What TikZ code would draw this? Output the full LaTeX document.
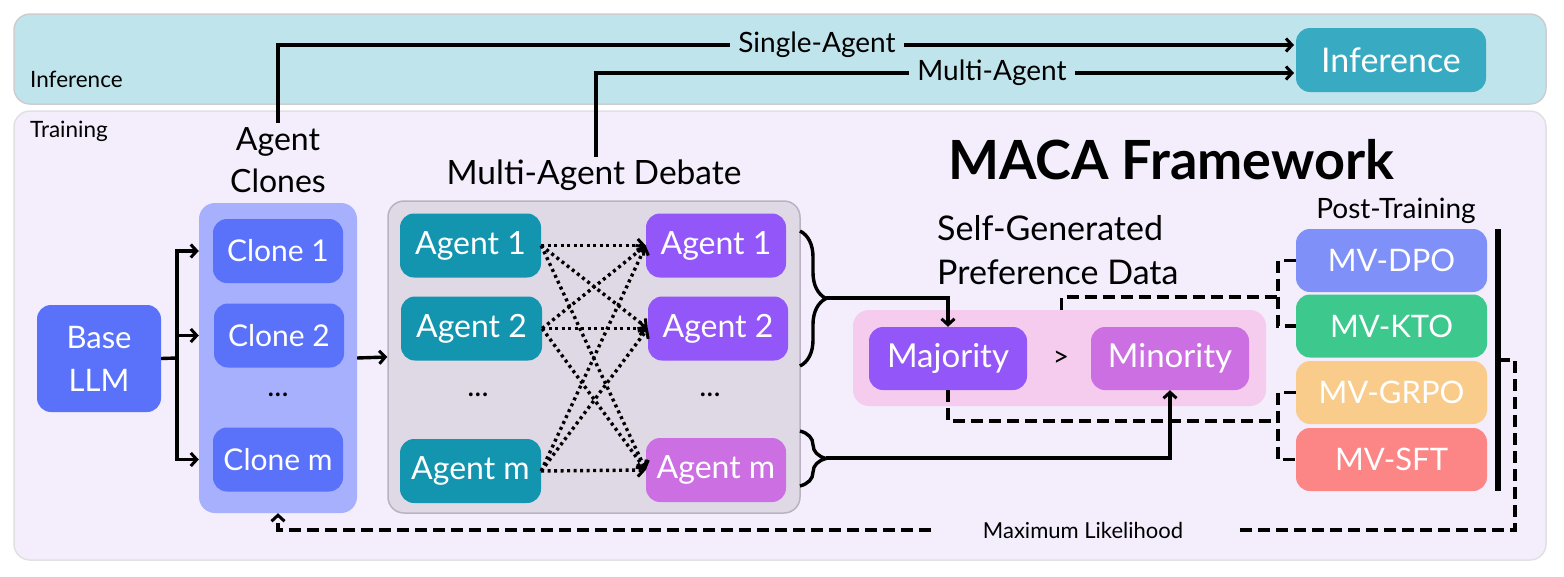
\documentclass[tikz,border=0pt]{standalone}
\usepackage{fontspec}
\setmainfont{Lato}
\usetikzlibrary{arrows.meta,decorations.pathreplacing,calc}
\definecolor{infband}{HTML}{BFE4EB}
\definecolor{trainband}{HTML}{F3EDFC}
\definecolor{bandline}{HTML}{CDCDD2}
\definecolor{blueA}{HTML}{5A72FA}
\definecolor{blueC}{HTML}{A6B0FC}
\definecolor{debfill}{HTML}{DFD9E5}
\definecolor{debline}{HTML}{BAB2C2}
\definecolor{teal}{HTML}{1395AF}
\definecolor{purp}{HTML}{9356F8}
\definecolor{pinkp}{HTML}{CB6FE2}
\definecolor{pinkbg}{HTML}{F6CCEE}
\definecolor{dpoc}{HTML}{7F90F9}
\definecolor{ktoc}{HTML}{3DC98E}
\definecolor{grpoc}{HTML}{F9CC8C}
\definecolor{sftc}{HTML}{FC8586}
\definecolor{infnode}{HTML}{38AAC1}
\tikzset{
  fnt/.style={font=\fontsize{#1}{#1}\selectfont},
  pill/.style={rounded corners=14pt, inner sep=0pt, text=white, minimum height=64pt},
  agentbox/.style={pill, minimum width=141pt, fnt=32},
  clonebox/.style={pill, fill=blueA, minimum width=130pt, fnt=30},
  mvbox/.style={pill, minimum width=191pt, minimum height=63pt, fnt=31},
  conn/.style={line width=3.4pt, -{Straight Barb[length=6pt,width=13pt,line width=3pt]}},
  plain/.style={line width=3.4pt},
  dotarrow/.style={line width=3.4pt, dash pattern=on 3pt off 3.5pt, -{Straight Barb[length=6pt,width=13pt,line width=3pt]}},
  dashline/.style={line width=3.4pt, dash pattern=on 12pt off 6pt},
  bracepath/.style={line width=3.4pt, decorate, decoration={brace, amplitude=26pt, aspect=0.5}},
}
\begin{document}
\begin{tikzpicture}[x=1pt,y=-1pt]
\useasboundingbox (0,0) rectangle (1564,576);
% bands
\draw[fill=infband, draw=bandline, line width=1.5pt, rounded corners=16pt] (14,14) rectangle (1546,104);
\draw[fill=trainband, draw=bandline!60, line width=1.5pt, rounded corners=16pt] (14,111) rectangle (1546,560);
\node[fnt=22.5, anchor=west, inner sep=0pt] (inflab) at (30,79) {Inference};
\node[fnt=22.5, anchor=west, inner sep=0pt] (trainlab) at (30,131) {Training};

% inference node
\node[pill, fill=infnode, minimum width=190pt, fnt=34] (inf) at (1391,60) {Inference};

% left side
\node[pill, fill=blueA, minimum width=124pt, minimum height=107pt, align=center, font=\fontsize{31}{43}\selectfont] (base) at (99,358.5) {Base\\LLM};
\node[rounded corners=16pt, fill=blueC, minimum width=158pt, minimum height=310pt, inner sep=0pt] (clones) at (278,358) {};
\node[clonebox] (c1) at (278,251) {Clone 1};
\node[clonebox] (c2) at (279,335.5) {Clone 2};
\node[fnt=30, inner sep=0pt] (cdots) at (278,395) {...};
\node[clonebox] (cm) at (278,459.5) {Clone m};
\node[align=center, font=\fontsize{32}{42}\selectfont, inner sep=0pt] (aclab) at (278,160) {Agent\\Clones};

% debate
\node[rounded corners=16pt, fill=debfill, draw=debline, line width=1.5pt, minimum width=412pt, minimum height=312pt, inner sep=0pt] (debate) at (594,357) {};
\node[fnt=33.5, inner sep=0pt] (deblab) at (594,175) {Multi-Agent Debate};
\node[agentbox, fill=teal] (l1) at (470.5,245.5) {Agent 1};
\node[agentbox, fill=teal] (l2) at (471.5,328.5) {Agent 2};
\node[fnt=30, inner sep=0pt] (ldots) at (478,395) {...};
\node[agentbox, fill=teal] (lm) at (470.5,471) {Agent m};
\node[agentbox, fill=purp, minimum width=140pt] (r1) at (716,245.5) {Agent 1};
\node[agentbox, fill=purp, minimum width=140pt] (r2) at (718,328.5) {Agent 2};
\node[fnt=30, inner sep=0pt] (rdots) at (710,395) {...};
\node[agentbox, fill=pinkp, minimum width=140pt] (rm) at (716,470) {Agent m};

\foreach \a in {l1,l2,lm}{
  \foreach \b in {r1,r2,rm}{
    \draw[dotarrow] (\a.east) -- (\b.west);
  }
}

% connectors left
\coordinate (split) at (177,358);
\draw[plain] (base.east) -- (split);
\draw[conn] (split) |- (clones.west |- c1.center);
\draw[conn] (split) |- (clones.west |- c2.center);
\draw[conn] (split) |- (clones.west |- cm.center);
\draw[conn] (clones.east) -- (debate.west);

% inference connectors
\coordinate (sa) at (1294,45);
\coordinate (ma) at (1294,73);
\draw[conn] (aclab.north) ++(0,-4) |- (sa);
\node[fill=infband, fnt=28, inner xsep=8pt, inner ysep=2pt] (salab) at (817,45) {Single-Agent};
\draw[conn] (deblab.north) ++(2,-2) |- (ma);
\node[fill=infband, fnt=28, inner xsep=8pt, inner ysep=2pt] (malab) at (992,73) {Multi-Agent};

% title
\node[font=\fontsize{54}{54}\selectfont\bfseries, inner sep=0pt] (title) at (1171,160) {MACA Framework};

% preference data
\node[rounded corners=16pt, fill=pinkbg, minimum width=413pt, minimum height=96pt, inner sep=0pt] (pref) at (1059.5,358) {};
\node[pill, fill=purp, minimum width=158pt, minimum height=63pt, fnt=33] (maj) at (948,358.5) {Majority};
\node[fnt=28, inner sep=0pt] (gt) at (1061,359) {>};
\node[pill, fill=pinkp, minimum width=158pt, minimum height=63pt, fnt=33] (mino) at (1170,358.5) {Minority};
\node[anchor=west, align=left, font=\fontsize{34}{44}\selectfont, inner sep=0pt] (sglab) at (937,250) {Self-Generated\\Preference Data};

% braces
\coordinate (b1t) at (800,231);
\coordinate (b1b) at (800,366);
\coordinate (b2t) at (800,431);
\coordinate (b2b) at (800,486);
\draw[bracepath] (b1t) -- (b1b);
\draw[bracepath] (b2t) -- (b2b);
\coordinate (tip1) at (826,298);
\coordinate (tip2) at (826,458);
\draw[conn] (tip1) -| (maj.north);
\draw[conn] (tip2) -| (mino.south);

% post-training
\node[fnt=28, inner sep=0pt] (ptlab) at (1396,211) {Post-Training};
\node[mvbox, fill=dpoc] (dpo) at (1391.5,260.5) {MV-DPO};
\node[mvbox, fill=ktoc] (kto) at (1391.5,326) {MV-KTO};
\node[mvbox, fill=grpoc] (grpo) at (1391.5,392.5) {MV-GRPO};
\node[mvbox, fill=sftc] (sft) at (1391.5,459.5) {MV-SFT};

% dashed links to post-training
\coordinate (k1) at (1278,297);
\coordinate (k2) at (1278,421);
\draw[dashline] ([xshift=2pt]pref.north) |- (k1);
\draw[dashline] (dpo.west) -| (k1) |- (kto.west);
\draw[dashline] (maj.south) |- (k2);
\draw[dashline] (grpo.west) -| (k2) |- (sft.west);

% thick bar
\coordinate (bartop) at (1498,229);
\coordinate (barbot) at (1498,491);
\coordinate (barmid) at (1498,360);
\draw[line width=6pt] (bartop) -- (barbot);

% maximum likelihood loop
\node[fnt=22, inner xsep=52pt, inner ysep=0pt] (ml) at (1083,530) {Maximum Likelihood};
\draw[dashline] (barmid) -- ++(17,0) |- (ml.east);
\draw[dashline, -{Straight Barb[length=6pt,width=13pt,line width=3pt]}] (ml.west) -| (clones.south);
\end{tikzpicture}
\end{document}
